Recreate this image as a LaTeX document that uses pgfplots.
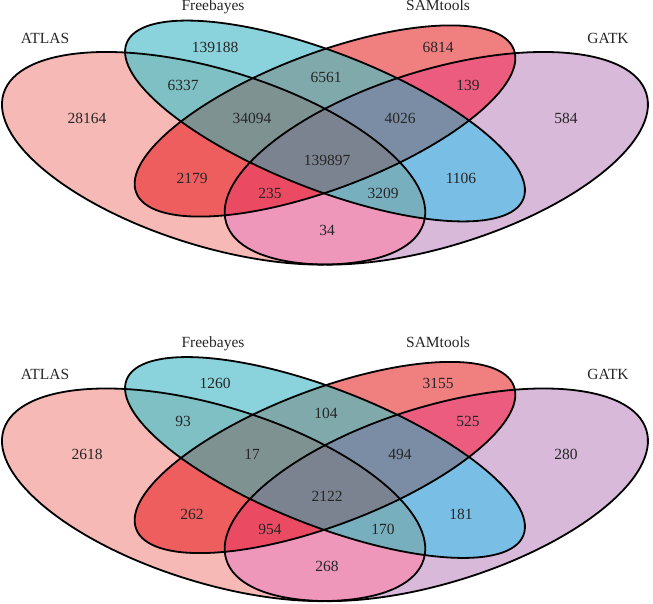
\documentclass[border=0pt]{standalone}
\usepackage{pgfplots}
\pgfplotsset{compat=1.18}
\usepackage{pgfplotstable}
\usepackage{fontspec}
\setmainfont{Liberation Serif}

\definecolor{cA}{HTML}{F6B9B6}
\definecolor{cF}{HTML}{8BD3DC}
\definecolor{cS}{HTML}{F07F80}
\definecolor{cG}{HTML}{D8B9DA}
\definecolor{cAF}{HTML}{7EC0C3}
\definecolor{cFS}{HTML}{80A9AB}
\definecolor{cSG}{HTML}{EB5C7E}
\definecolor{cAS}{HTML}{EE5E5E}
\definecolor{cFG}{HTML}{79BEE4}
\definecolor{cAG}{HTML}{EE97BB}
\definecolor{cAFS}{HTML}{7E9292}
\definecolor{cFSG}{HTML}{7B8DA4}
\definecolor{cASG}{HTML}{EA4B62}
\definecolor{cAFG}{HTML}{78AFBF}
\definecolor{cAFSG}{HTML}{7C8390}

% ellipse: command, options, cx, cy, rx, ry, angle
\newcommand\Ell[7]{#1[#2,rotate around={#7:(axis cs:#3,#4)}] (axis cs:#3,#4) ellipse [x radius=#5pt, y radius=#6pt];}
\newcommand\EA[3]{\Ell{#1}{#2}{213.6}{#3}{219.8}{88.2}{-17.15}}
\newcommand\EF[3]{\Ell{#1}{#2}{325.0}{#3}{213.1}{68.2}{-21.42}}
\newcommand\ES[3]{\Ell{#1}{#2}{325.0}{#3}{201.9}{67.9}{20.73}}
\newcommand\EG[3]{\Ell{#1}{#2}{436.3}{#3}{219.8}{88.2}{17.15}}
\newcommand\fillall[1]{\fill[#1] (axis cs:0,0) rectangle (axis cs:653,603);}

% #1 = centre y of ATLAS/GATK, #2 = centre y of Freebayes/SAMtools
\newcommand\vennpanel[2]{%
  \EA{\fill}{cA}{#1}
  \EF{\fill}{cF}{#2}
  \ES{\fill}{cS}{#2}
  \EG{\fill}{cG}{#1}
  \begin{scope}\EA{\clip}{}{#1}\EF{\clip}{}{#2}\fillall{cAF}\end{scope}
  \begin{scope}\EA{\clip}{}{#1}\ES{\clip}{}{#2}\fillall{cAS}\end{scope}
  \begin{scope}\EA{\clip}{}{#1}\EG{\clip}{}{#1}\fillall{cAG}\end{scope}
  \begin{scope}\EF{\clip}{}{#2}\ES{\clip}{}{#2}\fillall{cFS}\end{scope}
  \begin{scope}\EF{\clip}{}{#2}\EG{\clip}{}{#1}\fillall{cFG}\end{scope}
  \begin{scope}\ES{\clip}{}{#2}\EG{\clip}{}{#1}\fillall{cSG}\end{scope}
  \begin{scope}\EA{\clip}{}{#1}\EF{\clip}{}{#2}\ES{\clip}{}{#2}\fillall{cAFS}\end{scope}
  \begin{scope}\EA{\clip}{}{#1}\EF{\clip}{}{#2}\EG{\clip}{}{#1}\fillall{cAFG}\end{scope}
  \begin{scope}\EA{\clip}{}{#1}\ES{\clip}{}{#2}\EG{\clip}{}{#1}\fillall{cASG}\end{scope}
  \begin{scope}\EF{\clip}{}{#2}\ES{\clip}{}{#2}\EG{\clip}{}{#1}\fillall{cFSG}\end{scope}
  \begin{scope}\EA{\clip}{}{#1}\EF{\clip}{}{#2}\ES{\clip}{}{#2}\EG{\clip}{}{#1}\fillall{cAFSG}\end{scope}
  \EA{\draw}{line width=1.8pt}{#1}
  \EF{\draw}{line width=1.8pt}{#2}
  \ES{\draw}{line width=1.8pt}{#2}
  \EG{\draw}{line width=1.8pt}{#1}
}

\pgfplotstableread{
x     y      label
215   556    139188
438   556    6814
183   518    6337
326   526    6561
468   518    139
87    485    28164
252   485    34094
400   485    4026
566   485    584
327   443    139897
192   425    2179
461   425    1106
270   410    235
383   410    3209
327   373    34
}\countstop

\pgfplotstableread{
x     y      label
215   219.5  1260
438   219.5  3155
183   181.5  93
326   189.5  104
468   181.5  525
87    148.5  2618
252   148.5  17
400   148.5  494
566   148.5  280
327   106.5  2122
192   88.5   262
461   88.5   181
270   73.5   954
383   73.5   170
327   36.5   268
}\countsbottom

\pgfplotstableread{
x     y      label
45    565    ATLAS
213   596    Freebayes
438   597.5  SAMtools
608   565    GATK
45    228.5  ATLAS
213   259.5  Freebayes
438   261    SAMtools
608   228.5  GATK
}\setnames

\begin{document}
\begin{tikzpicture}
\begin{axis}[
  x=1pt, y=1pt,
  xmin=0, xmax=653, ymin=0, ymax=603,
  hide axis, clip=false,
  scale only axis,
  at={(0,0)}, anchor=south west,
]
\vennpanel{444.7}{482.0}
\vennpanel{108.2}{145.5}
\addplot[draw=none, mark=none, nodes near coords, nodes near coords align=center,
  point meta=explicit symbolic,
  nodes near coords style={font=\fontsize{15.5}{18}\selectfont, text=black!85, inner sep=0pt, anchor=center}]
  table[meta=label] {\countstop};
\addplot[draw=none, mark=none, nodes near coords, nodes near coords align=center,
  point meta=explicit symbolic,
  nodes near coords style={font=\fontsize{15.5}{18}\selectfont, text=black!85, inner sep=0pt, anchor=center}]
  table[meta=label] {\countsbottom};
\addplot[draw=none, mark=none, nodes near coords, nodes near coords align=center,
  point meta=explicit symbolic,
  nodes near coords style={font=\fontsize{15.5}{18}\selectfont, text=black!85, inner sep=0pt, anchor=center}]
  table[meta=label] {\setnames};
\end{axis}
\pgfresetboundingbox
\path[use as bounding box] (0,0) rectangle (653pt,603pt);
\end{tikzpicture}
\end{document}
